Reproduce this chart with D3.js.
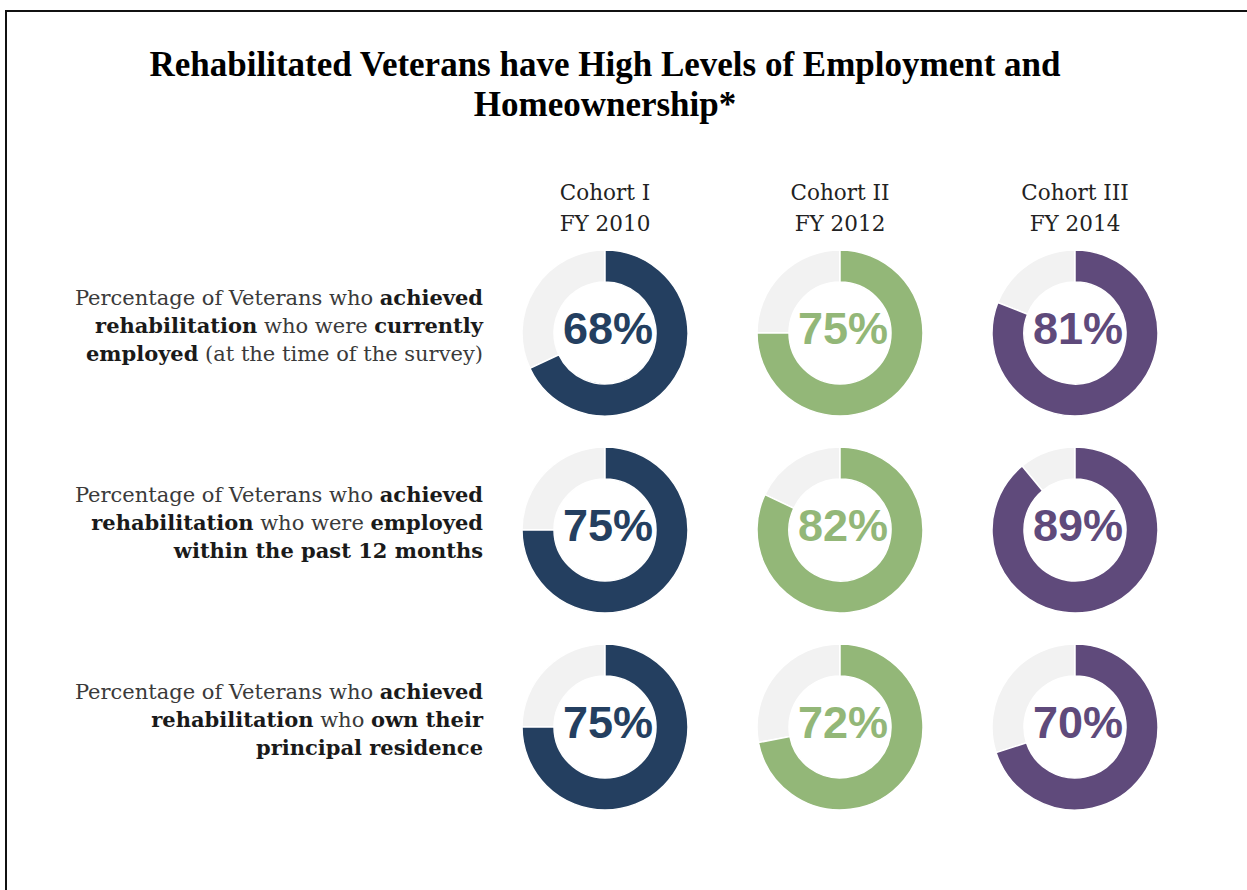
<!DOCTYPE html>
<html>
<head>
<meta charset="utf-8">
<script src="https://cdn.jsdelivr.net/npm/d3@7"></script>
<style>
  html, body { margin: 0; padding: 0; background: #fff; }
  svg { display: block; }
</style>
</head>
<body>
<svg id="chart" width="1247" height="890"></svg>
<script>
// ---- data ----
const titleLines = ["Rehabilitated Veterans have High Levels of Employment and", "Homeownership*"];
const cohorts = ["Cohort I", "Cohort II", "Cohort III"];
const fiscalYears = ["FY 2010", "FY 2012", "FY 2014"];
const cohortColors = ["#243f60", "#93b778", "#5f4a7b"];

// percentage of rehabilitated Veterans, one value per cohort
const currentlyEmployed = [68, 75, 81];
const employedPast12Months = [75, 82, 89];
const ownPrincipalResidence = [75, 72, 70];

// row labels: each line is a list of [text, bold] runs
const currentlyEmployedLabel = [
  [["Percentage of Veterans who ", false], ["achieved", true]],
  [["rehabilitation", true], [" who were ", false], ["currently", true]],
  [["employed", true], [" (at the time of the survey)", false]]
];
const employedPast12MonthsLabel = [
  [["Percentage of Veterans who ", false], ["achieved", true]],
  [["rehabilitation", true], [" who were ", false], ["employed", true]],
  [["within the past 12 months", true]]
];
const ownPrincipalResidenceLabel = [
  [["Percentage of Veterans who ", false], ["achieved", true]],
  [["rehabilitation", true], [" who ", false], ["own their", true]],
  [["principal residence", true]]
];

const rows = [
  { values: currentlyEmployed, label: currentlyEmployedLabel },
  { values: employedPast12Months, label: employedPast12MonthsLabel },
  { values: ownPrincipalResidence, label: ownPrincipalResidenceLabel }
];

// ---- layout ----
const svg = d3.select("#chart");
const labelFont = "'DejaVu Serif', 'Liberation Serif', serif";

// frame
svg.append("rect")
  .attr("x", 6).attr("y", 11)
  .attr("width", 1260).attr("height", 900)
  .attr("fill", "none").attr("stroke", "#111").attr("stroke-width", 2);

// title
svg.append("g").selectAll("text")
  .data(titleLines)
  .join("text")
  .attr("x", 605)
  .attr("y", (d, i) => 76 + i * 40)
  .attr("text-anchor", "middle")
  .attr("font-family", "'Liberation Serif', 'Times New Roman', serif")
  .attr("font-weight", "bold")
  .attr("font-size", 35)
  .attr("fill", "#000")
  .text(d => d);

// scales
const x = d3.scalePoint().domain(cohorts).range([605, 1075]);
const y = d3.scalePoint().domain(d3.range(rows.length)).range([333, 727]);
const pct = d3.scaleLinear().domain([0, 100]).range([0, 2 * Math.PI]);

const outerR = 83, innerR = 51;
const arc = d3.arc().innerRadius(innerR).outerRadius(outerR);

// column headers
const header = svg.append("g").selectAll("g")
  .data(cohorts)
  .join("g")
  .attr("transform", d => `translate(${x(d)},0)`);
header.append("text")
  .attr("y", 200)
  .attr("text-anchor", "middle")
  .attr("font-family", labelFont)
  .attr("font-size", 21.5)
  .attr("fill", "#222")
  .text(d => d);
header.append("text")
  .attr("y", 231)
  .attr("text-anchor", "middle")
  .attr("font-family", labelFont)
  .attr("font-size", 21.5)
  .attr("fill", "#222")
  .text((d, i) => fiscalYears[i]);

// row labels
rows.forEach((row, r) => {
  const g = svg.append("g");
  row.label.forEach((line, li) => {
    const t = g.append("text")
      .attr("x", 483)
      .attr("y", y(r) - 28 + li * 28)
      .attr("text-anchor", "end")
      .attr("font-family", labelFont)
      .attr("font-size", 21)
      .attr("fill", "#333");
    line.forEach(([txt, bold]) => {
      t.append("tspan")
        .attr("font-weight", bold ? "bold" : "normal")
        .attr("fill", bold ? "#1a1a1a" : "#3a3a3a")
        .text(txt);
    });
  });
});

// donuts
rows.forEach((row, r) => {
  const cells = svg.append("g").selectAll("g")
    .data(row.values.map((v, i) => ({ v, i })))
    .join("g")
    .attr("transform", d => `translate(${x(cohorts[d.i])},${y(r)})`);

  // remainder track
  cells.append("path")
    .attr("d", d => arc({ startAngle: pct(d.v), endAngle: pct(100) }))
    .attr("fill", "#f2f2f2")
    .attr("stroke", "#fff")
    .attr("stroke-width", 1.5);

  // value arc, clockwise from 12 o'clock
  cells.append("path")
    .attr("d", d => arc({ startAngle: pct(0), endAngle: pct(d.v) }))
    .attr("fill", d => cohortColors[d.i])
    .attr("stroke", "#fff")
    .attr("stroke-width", 1.5);

  cells.append("text")
    .attr("text-anchor", "middle")
    .attr("dy", "0.36em")
    .attr("x", 3)
    .attr("y", -5)
    .attr("font-family", "'Liberation Sans', Arial, sans-serif")
    .attr("font-weight", "bold")
    .attr("font-size", 45)
    .attr("fill", d => cohortColors[d.i])
    .text(d => `${d.v}%`);
});
</script>
</body>
</html>
